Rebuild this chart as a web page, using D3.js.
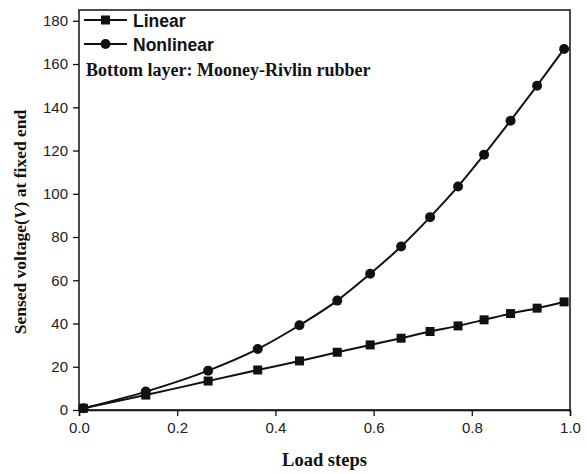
<!DOCTYPE html>
<html>
<head>
<meta charset="utf-8">
<script src="https://cdn.jsdelivr.net/npm/d3@7"></script>
<style>
  body { margin: 0; background: #fff; }
  svg { display: block; }
</style>
</head>
<body>
<div id="chart"></div>
<script>
// load steps (x) and the two series
const loadSteps = [0.009, 0.136, 0.263, 0.364, 0.449, 0.526, 0.593, 0.656, 0.715, 0.772, 0.825, 0.879, 0.933, 0.988];
const linearV = [0.8, 6.9, 13.4, 18.5, 22.7, 26.7, 30.1, 33.2, 36.3, 38.9, 41.7, 44.6, 47.1, 50.0];
const nonlinearV = [0.8, 8.5, 18.2, 28.2, 39.2, 50.6, 63.0, 75.6, 89.2, 103.4, 118.1, 133.8, 150.0, 167.0];
const xTicks = [0, 0.2, 0.4, 0.6, 0.8, 1.0];
const yTicks = [0, 20, 40, 60, 80, 100, 120, 140, 160, 180];

const W = 587, H = 474;
const m = { left: 79, right: 16, top: 10, bottom: 64 };

const svg = d3.select('#chart').append('svg')
  .attr('width', W)
  .attr('height', H);

const x = d3.scaleLinear().domain([0, 1]).range([m.left, W - m.right - 1]);
const y = d3.scaleLinear().domain([0, 185]).range([H - m.bottom, m.top]);

const ink = '#111';
const sans = 'Liberation Sans, Arial, sans-serif';
const serif = 'Liberation Serif, Times New Roman, serif';

// frame
svg.append('rect')
  .attr('x', x(0)).attr('y', y(185))
  .attr('width', x(1) - x(0)).attr('height', y(0) - y(185))
  .attr('fill', 'none').attr('stroke', ink).attr('stroke-width', 1.5);

// x axis: major + minor ticks
const gx = svg.append('g').attr('transform', `translate(0,${y(0)})`);
gx.call(d3.axisBottom(x).tickValues(d3.range(0, 1.01, 0.1)).tickSize(4).tickFormat(''))
  .call(g => g.select('.domain').remove());
gx.call(d3.axisBottom(x).tickValues(xTicks).tickSize(6).tickPadding(6).tickFormat(d3.format('.1f')))
  .call(g => g.select('.domain').attr('stroke', ink).attr('stroke-width', 1.5));
gx.selectAll('line').attr('stroke', ink).attr('stroke-width', 1.3);
gx.selectAll('text')
  .attr('font-family', sans)
  .attr('font-size', 15).attr('fill', '#222');

// y axis
const gy = svg.append('g').attr('transform', `translate(${x(0)},0)`);
gy.call(d3.axisLeft(y).tickValues(d3.range(0, 181, 10)).tickSize(4).tickFormat(''))
  .call(g => g.select('.domain').remove());
gy.call(d3.axisLeft(y).tickValues(yTicks).tickSize(6).tickPadding(5))
  .call(g => g.select('.domain').remove());
gy.selectAll('line').attr('stroke', ink).attr('stroke-width', 1.3);
gy.selectAll('text')
  .attr('font-family', sans)
  .attr('font-size', 15).attr('fill', '#222');

// series
const series = [
  { name: 'Linear', values: linearV, shape: 'square' },
  { name: 'Nonlinear', values: nonlinearV, shape: 'circle' }
];

const line = d3.line()
  .x(d => x(d[0]))
  .y(d => y(d[1]))
  .curve(d3.curveMonotoneX);

function marker(g, shape, cx, cy) {
  if (shape === 'square') {
    g.append('rect')
      .attr('x', cx - 4.5).attr('y', cy - 4.5)
      .attr('width', 9).attr('height', 9)
      .attr('fill', ink);
  } else {
    g.append('circle')
      .attr('cx', cx).attr('cy', cy).attr('r', 5)
      .attr('fill', ink);
  }
}

series.forEach(s => {
  const pts = loadSteps.map((v, i) => [v, s.values[i]]);
  svg.append('path')
    .datum(pts)
    .attr('d', line)
    .attr('fill', 'none')
    .attr('stroke', ink)
    .attr('stroke-width', 2);
  const g = svg.append('g');
  pts.forEach(p => marker(g, s.shape, x(p[0]), y(p[1])));
});

// legend
const leg = svg.append('g');
series.forEach((s, i) => {
  const ly = 20 + i * 24;
  leg.append('line')
    .attr('x1', 84).attr('x2', 127).attr('y1', ly).attr('y2', ly)
    .attr('stroke', ink).attr('stroke-width', 2);
  marker(leg, s.shape, 105.5, ly);
  leg.append('text')
    .attr('x', 133).attr('y', ly + 6.5)
    .attr('font-family', sans)
    .attr('font-weight', 'bold').attr('font-size', 17.5).attr('fill', ink)
    .text(s.name);
});
leg.append('text')
  .attr('x', 86).attr('y', 76)
  .attr('font-family', serif)
  .attr('font-weight', 'bold').attr('font-size', 18).attr('fill', ink)
  .text('Bottom layer: Mooney-Rivlin rubber');

// axis titles
svg.append('text')
  .attr('x', (x(0) + x(1)) / 2).attr('y', 466)
  .attr('text-anchor', 'middle')
  .attr('font-family', serif)
  .attr('font-weight', 'bold').attr('font-size', 18.5).attr('fill', ink)
  .text('Load steps');

const yt = svg.append('text')
  .attr('transform', `translate(26,222) rotate(-90)`)
  .attr('text-anchor', 'middle')
  .attr('font-family', serif)
  .attr('font-weight', 'bold').attr('font-size', 17.5).attr('fill', ink);
yt.append('tspan').text('Sensed voltage(');
yt.append('tspan').attr('font-style', 'italic').text('V');
yt.append('tspan').text(') at fixed end');
</script>
</body>
</html>
